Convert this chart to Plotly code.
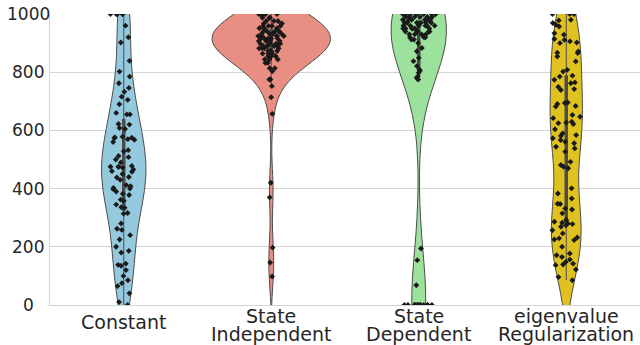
import numpy as np
import plotly.graph_objects as go

# Categories and their two-line axis labels
categories = ["Constant", "State Independent", "State Dependent", "eigenvalue Regularization"]
label_lines = [["Constant"], ["State", "Independent"], ["State", "Dependent"], ["eigenvalue", "Regularization"]]
y_ticks = [0, 200, 400, 600, 800, 1000]

# Per-run scores for each method
constant = [1000, 1000, 1000, 1000, 1000, 1000, 960, 920, 902, 839, 802, 785, 762, 746, 733, 716,
            705, 690, 660, 655, 655, 622, 620, 608, 605, 578, 576, 575, 574, 570, 568, 560, 532,
            528, 512, 508, 500, 490, 478, 476, 475, 474, 472, 466, 460, 458, 450, 440, 438, 430,
            412, 408, 402, 400, 398, 390, 382, 378, 362, 358, 345, 336, 334, 316, 314, 280, 262,
            258, 240, 225, 200, 186, 180, 142, 138, 135, 120, 100, 85, 75, 65, 40, 10, 0]

state_independent = [1000, 1000, 1000, 1000, 1000, 995, 987, 987, 987, 976, 976, 976, 967, 967, 967,
                     959, 959, 959, 959, 951, 951, 951, 941, 941, 941, 941, 941, 932, 932, 932, 932,
                     924, 924, 924, 924, 924, 916, 916, 916, 916, 916, 907, 907, 907, 907, 907,
                     898, 898, 898, 898, 898, 890, 890, 890, 890, 882, 882, 882, 882, 873, 873, 873,
                     873, 864, 864, 864, 855, 855, 855, 844, 844, 844, 832, 832, 814, 814, 803, 775,
                     775, 752, 714, 657, 420, 370, 197, 146, 98]

state_dependent = [0, 0, 0, 0, 0, 0, 0, 0, 0, 0, 0, 0, 0, 68, 154, 194, 775, 781, 786, 798, 805,
                   809, 821, 838, 849, 872, 883, 900, 912, 912, 920, 920, 920, 930, 930, 930, 930,
                   940, 940, 940, 940, 940, 950, 950, 950, 950, 950, 950, 960, 960, 960, 960, 960,
                   960, 970, 970, 970, 970, 970, 970, 980, 980, 980, 980, 980, 980, 990, 990, 990,
                   990, 990, 990, 1000, 1000, 1000, 1000, 1000, 1000, 1000, 1000]

eigen_reg = [1000, 1000, 1000, 980, 978, 969, 963, 957, 934, 929, 914, 911, 906, 902, 900, 871, 867,
             866, 854, 837, 808, 802, 788, 785, 774, 765, 762, 749, 742, 739, 696, 694, 691, 684,
             682, 653, 647, 642, 630, 627, 625, 622, 604, 590, 584, 581, 573, 567, 561, 556, 544,
             538, 527, 492, 481, 475, 470, 401, 383, 366, 348, 347, 332, 328, 315, 292, 286, 283,
             280, 278, 274, 269, 257, 246, 232, 229, 225, 223, 200, 177, 171, 165, 156, 148, 142,
             139, 137, 122, 96, 85]

series = [constant, state_independent, state_dependent, eigen_reg]
fill_colors = ["#94c9de", "#e98e83", "#9ce29c", "#dfc220"]
edge_color = "#4c4c4c"
text_color = "#262626"
grid_color = "#d4d4d4"

PX_PER_CAT = 590 / 4  # plot width in px divided by number of categories


def scott_bandwidth(values):
    v = np.asarray(values, float)
    return v.std(ddof=1) * len(v) ** (-1 / 5)


def peak_density(values, bw):
    v = np.asarray(values, float)
    grid = np.linspace(v.min() - 2 * bw, v.max() + 2 * bw, 1024)
    dens = np.exp(-0.5 * ((grid[:, None] - v[None, :]) / bw) ** 2).sum(axis=1)
    return dens.max() / (len(v) * bw * np.sqrt(2 * np.pi))


# Equal-area scaling: the violin with the tallest density peak gets width 0.8
bandwidths = [scott_bandwidth(s) for s in series]
peaks = [peak_density(s, b) for s, b in zip(series, bandwidths)]
widths = [0.8 * p / max(peaks) for p in peaks]

fig = go.Figure()
for cat, vals, col, bw, w in zip(categories, series, fill_colors, bandwidths, widths):
    fig.add_trace(go.Violin(
        x=[cat] * len(vals), y=vals, name=cat,
        bandwidth=bw, width=w, scalemode="width", spanmode="soft",
        fillcolor=col, opacity=1,
        line=dict(color=edge_color, width=1),
        box=dict(visible=True, width=2.5 / (w * PX_PER_CAT), fillcolor=edge_color,
                 line=dict(color=edge_color, width=1)),
        meanline=dict(visible=False),
        points="all", pointpos=0, jitter=min(1.0, 0.115 / (w / 2)),
        marker=dict(symbol="diamond", size=4.5, color="#1a1a1a", line=dict(width=0)),
        showlegend=False, hoverinfo="skip",
    ))

annotations = []
for t in y_ticks:
    annotations.append(dict(
        x=0, xref="paper", xshift=-22, xanchor="center",
        y=t, yref="y", yanchor="middle",
        text=str(t), showarrow=False,
        font=dict(family="DejaVu Sans", size=17, color=text_color),
    ))

for cat, lines in zip(categories, label_lines):
    shifts = [-16.9] if len(lines) == 1 else [-11.1, -28.9]
    for line, dy in zip(lines, shifts):
        annotations.append(dict(
            x=cat, xref="x", xanchor="center",
            y=0, yref="y", yanchor="middle", yshift=dy,
            text=line, showarrow=False, borderpad=0,
            font=dict(family="DejaVu Sans", size=19, color=text_color),
        ))

fig.update_layout(
    width=640, height=345,
    margin=dict(l=50, r=0, t=14, b=40),
    paper_bgcolor="white", plot_bgcolor="white",
    violinmode="overlay", showlegend=False,
    font=dict(family="DejaVu Sans", color=text_color),
    annotations=annotations,
)
fig.update_xaxes(
    type="category", categoryorder="array", categoryarray=categories,
    range=[-0.5, 3.5], showgrid=False, showticklabels=False, ticks="",
    showline=True, linecolor=grid_color, linewidth=1, zeroline=False,
)
fig.update_yaxes(
    range=[0, 1000], tickvals=y_ticks, showticklabels=False, ticks="",
    showgrid=True, gridcolor=grid_color, gridwidth=1,
    showline=True, linecolor=grid_color, linewidth=1, zeroline=False,
)

fig.write_html("out.html")
